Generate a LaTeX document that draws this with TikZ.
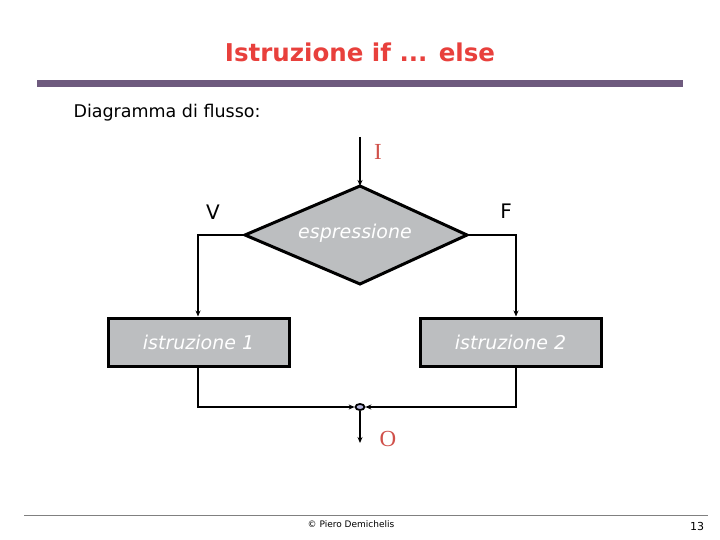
\documentclass[tikz,border=0pt]{standalone}
\usepackage{fontspec}
\setmainfont{DejaVu Sans}
\newfontfamily\serifred{Liberation Serif}
\usetikzlibrary{shapes.geometric,arrows.meta}
\definecolor{titlered}{HTML}{E8403C}
\definecolor{letterred}{HTML}{D0504A}
\definecolor{barpurple}{HTML}{6E5A7E}
\definecolor{boxgray}{HTML}{BCBEC0}
\begin{document}
\begin{tikzpicture}[x=1pt,y=-1pt,
  flow/.style={line width=2pt},
  tip/.style={-{Stealth[length=6pt,width=5pt]}},
  instr/.style={draw=black,line width=3pt,fill=boxgray,minimum width=181pt,minimum height=48pt,inner sep=0pt,
    font=\fontsize{19}{22}\selectfont\itshape,text=white},
  lbl/.style={font=\fontsize{20}{24}\selectfont},
  redl/.style={font=\serifred\fontsize{23}{26}\selectfont,text=letterred}]
\useasboundingbox (0,0) rectangle (720,540);
% title and bar
\node[font=\fontsize{24.5}{28}\selectfont\bfseries,text=titlered] (title) at (360,52) {Istruzione if ... else};
\fill[barpurple] (37,80) rectangle (683,87);
\node[anchor=west,font=\fontsize{17.5}{20}\selectfont] (sub) at (70,113) {Diagramma di flusso:};
% diamond
\coordinate (dt) at (360,186);
\coordinate (dl) at (245,235);
\coordinate (dr) at (467,235);
\coordinate (db) at (360,284);
\filldraw[fill=boxgray,draw=black,line width=3pt,line join=miter] (dt) -- (dr) -- (db) -- (dl) -- cycle;
\node[font=\fontsize{19}{22}\selectfont\itshape,text=white] (expr) at (355,233) {espressione};
% input
\coordinate (in) at (360,137);
\draw[flow,tip] (in) -- (dt);
\node[redl] (I) at (378,152) {I};
% labels
\node[lbl] (V) at (213,212) {V};
\node[lbl] (F) at (506,211) {F};
% boxes
\node[instr] (b1) at (198.5,342) {istruzione 1};
\node[instr] (b2) at (510.5,342) {istruzione 2};
% branches
\draw[flow,tip] (dl) -- (198,235) -- (b1.north -| 198,0);
\draw[flow,tip] (dr) -- (516,235) -- (b2.north -| 516,0);
% junction
\node[ellipse,draw=black,fill=gray!60!blue!40,line width=1.8pt,minimum width=9pt,minimum height=6pt,inner sep=0pt] (j) at (360,407) {};
\draw[flow,tip] (b1.south -| 198,0) -- (198,407) -- (j.west);
\draw[flow,tip] (b2.south -| 516,0) -- (516,407) -- (j.east);
\coordinate (out) at (360,443);
\draw[flow,tip] (j.south) -- (out);
\node[redl] (O) at (388,439) {O};
% footer
\draw[gray,line width=0.8pt] (24,515) -- (708,515);
\node[font=\fontsize{9}{11}\selectfont] (copy) at (351,524) {© Piero Demichelis};
\node[font=\fontsize{11}{13}\selectfont] (pg) at (697,526) {13};
\end{tikzpicture}
\end{document}
